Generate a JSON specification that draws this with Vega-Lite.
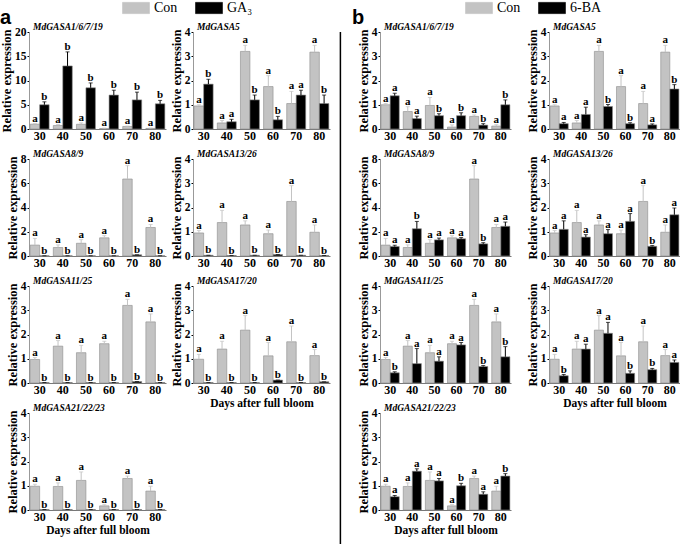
{
"$schema":"https://vega.github.io/schema/vega-lite/v6.json",
"padding":{"left":0,"top":1,"right":0,"bottom":0},
"background":"white",
"datasets":{"d":[
{"p":"a1","d":30,"t":"Con","v":1.0,"hi":1.1,"s":"a"},{"p":"a1","d":40,"t":"Con","v":0.72,"hi":0.92,"s":"a"},{"p":"a1","d":50,"t":"Con","v":0.97,"hi":1.27,"s":"a"},{"p":"a1","d":60,"t":"Con","v":0.08,"hi":0.18,"s":"a"},{"p":"a1","d":70,"t":"Con","v":0.52,"hi":0.6,"s":"a"},{"p":"a1","d":80,"t":"Con","v":0.12,"hi":0.2,"s":"a"},
{"p":"a1","d":30,"t":"GA₃","v":5.0,"hi":5.6,"s":"b"},{"p":"a1","d":40,"t":"GA₃","v":13.0,"hi":15.9,"s":"b"},{"p":"a1","d":50,"t":"GA₃","v":8.5,"hi":9.5,"s":"b"},{"p":"a1","d":60,"t":"GA₃","v":7.0,"hi":8.0,"s":"b"},{"p":"a1","d":70,"t":"GA₃","v":6.0,"hi":7.6,"s":"b"},{"p":"a1","d":80,"t":"GA₃","v":5.2,"hi":5.9,"s":"b"},
{"p":"a2","d":30,"t":"Con","v":0.95,"hi":1.0,"s":"a"},{"p":"a2","d":40,"t":"Con","v":0.25,"hi":0.35,"s":"a"},{"p":"a2","d":50,"t":"Con","v":3.2,"hi":3.45,"s":"a"},{"p":"a2","d":60,"t":"Con","v":1.75,"hi":2.2,"s":"a"},{"p":"a2","d":70,"t":"Con","v":1.05,"hi":1.55,"s":"a"},{"p":"a2","d":80,"t":"Con","v":3.17,"hi":3.45,"s":"a"},
{"p":"a2","d":30,"t":"GA₃","v":1.85,"hi":2.05,"s":"b"},{"p":"a2","d":40,"t":"GA₃","v":0.3,"hi":0.4,"s":"a"},{"p":"a2","d":50,"t":"GA₃","v":1.2,"hi":1.4,"s":"b"},{"p":"a2","d":60,"t":"GA₃","v":0.38,"hi":0.52,"s":"b"},{"p":"a2","d":70,"t":"GA₃","v":1.4,"hi":1.6,"s":"a"},{"p":"a2","d":80,"t":"GA₃","v":1.05,"hi":1.4,"s":"b"},
{"p":"a3","d":30,"t":"Con","v":0.9,"hi":1.45,"s":"a"},{"p":"a3","d":40,"t":"Con","v":0.7,"hi":0.92,"s":"a"},{"p":"a3","d":50,"t":"Con","v":1.05,"hi":1.35,"s":"a"},{"p":"a3","d":60,"t":"Con","v":1.5,"hi":1.68,"s":"a"},{"p":"a3","d":70,"t":"Con","v":6.35,"hi":7.45,"s":"a"},{"p":"a3","d":80,"t":"Con","v":2.35,"hi":2.6,"s":"a"},
{"p":"a3","d":30,"t":"GA₃","v":0.02,"hi":0.02,"s":"b"},{"p":"a3","d":40,"t":"GA₃","v":0.02,"hi":0.02,"s":"b"},{"p":"a3","d":50,"t":"GA₃","v":0.02,"hi":0.02,"s":"b"},{"p":"a3","d":60,"t":"GA₃","v":0.02,"hi":0.02,"s":"b"},{"p":"a3","d":70,"t":"GA₃","v":0.1,"hi":0.1,"s":"b"},{"p":"a3","d":80,"t":"GA₃","v":0.02,"hi":0.02,"s":"b"},
{"p":"a4","d":30,"t":"Con","v":0.95,"hi":1.05,"s":"a"},{"p":"a4","d":40,"t":"Con","v":1.38,"hi":1.88,"s":"a"},{"p":"a4","d":50,"t":"Con","v":1.28,"hi":1.45,"s":"a"},{"p":"a4","d":60,"t":"Con","v":0.92,"hi":1.07,"s":"a"},{"p":"a4","d":70,"t":"Con","v":2.25,"hi":2.9,"s":"a"},{"p":"a4","d":80,"t":"Con","v":0.98,"hi":1.28,"s":"a"},
{"p":"a4","d":30,"t":"GA₃","v":0.03,"hi":0.03,"s":"b"},{"p":"a4","d":40,"t":"GA₃","v":0.02,"hi":0.02,"s":"b"},{"p":"a4","d":50,"t":"GA₃","v":0.03,"hi":0.03,"s":"b"},{"p":"a4","d":60,"t":"GA₃","v":0.06,"hi":0.06,"s":"b"},{"p":"a4","d":70,"t":"GA₃","v":0.03,"hi":0.03,"s":"b"},{"p":"a4","d":80,"t":"GA₃","v":0.02,"hi":0.02,"s":"b"},
{"p":"a5","d":30,"t":"Con","v":0.97,"hi":1.05,"s":"a"},{"p":"a5","d":40,"t":"Con","v":1.52,"hi":1.75,"s":"a"},{"p":"a5","d":50,"t":"Con","v":1.25,"hi":1.55,"s":"a"},{"p":"a5","d":60,"t":"Con","v":1.62,"hi":1.72,"s":"a"},{"p":"a5","d":70,"t":"Con","v":3.2,"hi":3.45,"s":"a"},{"p":"a5","d":80,"t":"Con","v":2.52,"hi":2.85,"s":"a"},
{"p":"a5","d":30,"t":"GA₃","v":0.02,"hi":0.02,"s":"b"},{"p":"a5","d":40,"t":"GA₃","v":0.02,"hi":0.02,"s":"b"},{"p":"a5","d":50,"t":"GA₃","v":0.02,"hi":0.02,"s":"b"},{"p":"a5","d":60,"t":"GA₃","v":0.02,"hi":0.02,"s":"b"},{"p":"a5","d":70,"t":"GA₃","v":0.06,"hi":0.06,"s":"b"},{"p":"a5","d":80,"t":"GA₃","v":0.02,"hi":0.02,"s":"b"},
{"p":"a6","d":30,"t":"Con","v":0.98,"hi":1.18,"s":"a"},{"p":"a6","d":40,"t":"Con","v":1.4,"hi":1.72,"s":"a"},{"p":"a6","d":50,"t":"Con","v":2.18,"hi":2.78,"s":"a"},{"p":"a6","d":60,"t":"Con","v":1.12,"hi":1.67,"s":"a"},{"p":"a6","d":70,"t":"Con","v":1.7,"hi":2.35,"s":"a"},{"p":"a6","d":80,"t":"Con","v":1.13,"hi":1.38,"s":"a"},
{"p":"a6","d":30,"t":"GA₃","v":0.02,"hi":0.02,"s":"b"},{"p":"a6","d":40,"t":"GA₃","v":0.02,"hi":0.02,"s":"b"},{"p":"a6","d":50,"t":"GA₃","v":0.02,"hi":0.02,"s":"b"},{"p":"a6","d":60,"t":"GA₃","v":0.12,"hi":0.12,"s":"b"},{"p":"a6","d":70,"t":"GA₃","v":0.02,"hi":0.02,"s":"b"},{"p":"a6","d":80,"t":"GA₃","v":0.05,"hi":0.05,"s":"b"},
{"p":"a7","d":30,"t":"Con","v":0.98,"hi":1.06,"s":"a"},{"p":"a7","d":40,"t":"Con","v":0.97,"hi":1.12,"s":"a"},{"p":"a7","d":50,"t":"Con","v":1.22,"hi":1.57,"s":"a"},{"p":"a7","d":60,"t":"Con","v":0.17,"hi":0.22,"s":"a"},{"p":"a7","d":70,"t":"Con","v":1.3,"hi":1.4,"s":"a"},{"p":"a7","d":80,"t":"Con","v":0.78,"hi":0.98,"s":"a"},
{"p":"a7","d":30,"t":"GA₃","v":0.02,"hi":0.02,"s":"b"},{"p":"a7","d":40,"t":"GA₃","v":0.02,"hi":0.02,"s":"b"},{"p":"a7","d":50,"t":"GA₃","v":0.02,"hi":0.02,"s":"b"},{"p":"a7","d":60,"t":"GA₃","v":0.02,"hi":0.02,"s":"b"},{"p":"a7","d":70,"t":"GA₃","v":0.02,"hi":0.02,"s":"b"},{"p":"a7","d":80,"t":"GA₃","v":0.02,"hi":0.02,"s":"b"},
{"p":"b1","d":30,"t":"Con","v":1.0,"hi":1.05,"s":"a"},{"p":"b1","d":40,"t":"Con","v":0.72,"hi":0.92,"s":"a"},{"p":"b1","d":50,"t":"Con","v":0.97,"hi":1.3,"s":"a"},{"p":"b1","d":60,"t":"Con","v":0.08,"hi":0.17,"s":"a"},{"p":"b1","d":70,"t":"Con","v":0.52,"hi":0.58,"s":"a"},{"p":"b1","d":80,"t":"Con","v":0.12,"hi":0.18,"s":"a"},
{"p":"b1","d":30,"t":"6-BA","v":1.37,"hi":1.47,"s":"a"},{"p":"b1","d":40,"t":"6-BA","v":0.43,"hi":0.53,"s":"a"},{"p":"b1","d":50,"t":"6-BA","v":0.55,"hi":0.63,"s":"b"},{"p":"b1","d":60,"t":"6-BA","v":0.55,"hi":0.67,"s":"b"},{"p":"b1","d":70,"t":"6-BA","v":0.16,"hi":0.22,"s":"b"},{"p":"b1","d":80,"t":"6-BA","v":1.0,"hi":1.2,"s":"b"},
{"p":"b2","d":30,"t":"Con","v":0.95,"hi":1.0,"s":"a"},{"p":"b2","d":40,"t":"Con","v":0.25,"hi":0.35,"s":"a"},{"p":"b2","d":50,"t":"Con","v":3.2,"hi":3.45,"s":"a"},{"p":"b2","d":60,"t":"Con","v":1.75,"hi":2.2,"s":"a"},{"p":"b2","d":70,"t":"Con","v":1.05,"hi":1.55,"s":"a"},{"p":"b2","d":80,"t":"Con","v":3.17,"hi":3.45,"s":"a"},
{"p":"b2","d":30,"t":"6-BA","v":0.22,"hi":0.27,"s":"a"},{"p":"b2","d":40,"t":"6-BA","v":0.6,"hi":0.9,"s":"a"},{"p":"b2","d":50,"t":"6-BA","v":0.93,"hi":1.01,"s":"b"},{"p":"b2","d":60,"t":"6-BA","v":0.22,"hi":0.26,"s":"b"},{"p":"b2","d":70,"t":"6-BA","v":0.17,"hi":0.21,"s":"a"},{"p":"b2","d":80,"t":"6-BA","v":1.65,"hi":1.83,"s":"b"},
{"p":"b3","d":30,"t":"Con","v":0.9,"hi":1.45,"s":"a"},{"p":"b3","d":40,"t":"Con","v":0.7,"hi":0.92,"s":"a"},{"p":"b3","d":50,"t":"Con","v":1.05,"hi":1.35,"s":"a"},{"p":"b3","d":60,"t":"Con","v":1.5,"hi":1.68,"s":"a"},{"p":"b3","d":70,"t":"Con","v":6.35,"hi":7.45,"s":"a"},{"p":"b3","d":80,"t":"Con","v":2.35,"hi":2.6,"s":"a"},
{"p":"b3","d":30,"t":"6-BA","v":0.78,"hi":0.88,"s":"a"},{"p":"b3","d":40,"t":"6-BA","v":2.25,"hi":2.85,"s":"b"},{"p":"b3","d":50,"t":"6-BA","v":1.33,"hi":1.48,"s":"a"},{"p":"b3","d":60,"t":"6-BA","v":1.42,"hi":1.52,"s":"a"},{"p":"b3","d":70,"t":"6-BA","v":1.0,"hi":1.1,"s":"b"},{"p":"b3","d":80,"t":"6-BA","v":2.45,"hi":2.8,"s":"a"},
{"p":"b4","d":30,"t":"Con","v":0.95,"hi":1.05,"s":"a"},{"p":"b4","d":40,"t":"Con","v":1.38,"hi":1.88,"s":"a"},{"p":"b4","d":50,"t":"Con","v":1.28,"hi":1.45,"s":"a"},{"p":"b4","d":60,"t":"Con","v":0.92,"hi":1.07,"s":"a"},{"p":"b4","d":70,"t":"Con","v":2.25,"hi":2.9,"s":"a"},{"p":"b4","d":80,"t":"Con","v":0.98,"hi":1.28,"s":"a"},
{"p":"b4","d":30,"t":"6-BA","v":1.1,"hi":1.45,"s":"a"},{"p":"b4","d":40,"t":"6-BA","v":0.78,"hi":0.88,"s":"a"},{"p":"b4","d":50,"t":"6-BA","v":0.92,"hi":1.09,"s":"a"},{"p":"b4","d":60,"t":"6-BA","v":1.43,"hi":1.75,"s":"a"},{"p":"b4","d":70,"t":"6-BA","v":0.4,"hi":0.43,"s":"b"},{"p":"b4","d":80,"t":"6-BA","v":1.7,"hi":1.98,"s":"a"},
{"p":"b5","d":30,"t":"Con","v":0.97,"hi":1.05,"s":"a"},{"p":"b5","d":40,"t":"Con","v":1.52,"hi":1.75,"s":"a"},{"p":"b5","d":50,"t":"Con","v":1.25,"hi":1.55,"s":"a"},{"p":"b5","d":60,"t":"Con","v":1.62,"hi":1.72,"s":"a"},{"p":"b5","d":70,"t":"Con","v":3.2,"hi":3.45,"s":"a"},{"p":"b5","d":80,"t":"Con","v":2.52,"hi":2.85,"s":"a"},
{"p":"b5","d":30,"t":"6-BA","v":0.42,"hi":0.46,"s":"b"},{"p":"b5","d":40,"t":"6-BA","v":0.8,"hi":1.42,"s":"a"},{"p":"b5","d":50,"t":"6-BA","v":0.9,"hi":1.08,"s":"a"},{"p":"b5","d":60,"t":"6-BA","v":1.57,"hi":1.67,"s":"a"},{"p":"b5","d":70,"t":"6-BA","v":0.68,"hi":0.72,"s":"b"},{"p":"b5","d":80,"t":"6-BA","v":1.08,"hi":1.5,"s":"b"},
{"p":"b6","d":30,"t":"Con","v":0.98,"hi":1.18,"s":"a"},{"p":"b6","d":40,"t":"Con","v":1.4,"hi":1.72,"s":"a"},{"p":"b6","d":50,"t":"Con","v":2.18,"hi":2.78,"s":"a"},{"p":"b6","d":60,"t":"Con","v":1.12,"hi":1.67,"s":"a"},{"p":"b6","d":70,"t":"Con","v":1.7,"hi":2.35,"s":"a"},{"p":"b6","d":80,"t":"Con","v":1.13,"hi":1.38,"s":"a"},
{"p":"b6","d":30,"t":"6-BA","v":0.3,"hi":0.35,"s":"b"},{"p":"b6","d":40,"t":"6-BA","v":1.4,"hi":1.6,"s":"a"},{"p":"b6","d":50,"t":"6-BA","v":2.05,"hi":2.5,"s":"a"},{"p":"b6","d":60,"t":"6-BA","v":0.4,"hi":0.5,"s":"b"},{"p":"b6","d":70,"t":"6-BA","v":0.55,"hi":0.6,"s":"b"},{"p":"b6","d":80,"t":"6-BA","v":0.85,"hi":0.95,"s":"a"},
{"p":"b7","d":30,"t":"Con","v":0.98,"hi":1.06,"s":"a"},{"p":"b7","d":40,"t":"Con","v":0.97,"hi":1.12,"s":"a"},{"p":"b7","d":50,"t":"Con","v":1.22,"hi":1.57,"s":"a"},{"p":"b7","d":60,"t":"Con","v":0.17,"hi":0.22,"s":"a"},{"p":"b7","d":70,"t":"Con","v":1.3,"hi":1.4,"s":"a"},{"p":"b7","d":80,"t":"Con","v":0.78,"hi":0.98,"s":"a"},
{"p":"b7","d":30,"t":"6-BA","v":0.55,"hi":0.6,"s":"a"},{"p":"b7","d":40,"t":"6-BA","v":1.6,"hi":1.7,"s":"a"},{"p":"b7","d":50,"t":"6-BA","v":1.2,"hi":1.3,"s":"a"},{"p":"b7","d":60,"t":"6-BA","v":1.0,"hi":1.1,"s":"b"},{"p":"b7","d":70,"t":"6-BA","v":0.65,"hi":0.75,"s":"a"},{"p":"b7","d":80,"t":"6-BA","v":1.4,"hi":1.5,"s":"b"}
]},
"data":{"name":"d"},
"spacing":8,
"resolve":{"scale":{"color":"independent","xOffset":"independent"},"legend":{"color":"independent"}},
"hconcat":[
{"columns":2,"bounds":"flush","spacing":{"row":30,"column":27},
 "concat":[
 {"transform":[{"filter":"datum.p=='a1'"}],"title":"MdGASA1/6/7/19","width":137,"height":97,
  "encoding":{"x":{"field":"d","type":"ordinal","title":null,"scale":{"paddingInner":0.18,"paddingOuter":0.05}},"xOffset":{"field":"t","type":"nominal","scale":{"domain":["Con","GA₃"]}},"y":{"field":"v","type":"quantitative","title":"Relative expression","scale":{"domain":[0,20]},"axis":{"values":[0,5,10,15,20]}},"color":{"field":"t","type":"nominal","scale":{"domain":["Con","GA₃"],"range":["#c3c3c3","#000000"]},"legend":{"title":"a","titlePadding":117,"legendX":-29,"legendY":-31}}},
  "layer":[{"mark":{"type":"bar","stroke":"#8c8c8c","strokeWidth":0.6}},{"mark":{"type":"rule","strokeWidth":1},"encoding":{"y2":{"field":"hi"}}},{"mark":{"type":"tick","thickness":1,"size":4},"encoding":{"y":{"field":"hi","type":"quantitative","title":"Relative expression"}}},{"mark":{"type":"text","baseline":"alphabetic","dy":-2,"fontWeight":"bold","fontSize":11,"font":"Liberation Serif"},"encoding":{"y":{"field":"hi","type":"quantitative","title":"Relative expression"},"text":{"field":"s"},"color":{"value":"#000"}}}]},
 {"transform":[{"filter":"datum.p=='a2'"}],"title":"MdGASA5","width":137,"height":97,
  "encoding":{"x":{"field":"d","type":"ordinal","title":null,"scale":{"paddingInner":0.18,"paddingOuter":0.05}},"xOffset":{"field":"t","type":"nominal","scale":{"domain":["Con","GA₃"]}},"y":{"field":"v","type":"quantitative","title":"Relative expression","scale":{"domain":[0,4]},"axis":{"values":[0,1,2,3,4]}},"color":{"field":"t","type":"nominal","scale":{"domain":["Con","GA₃"],"range":["#c3c3c3","#000000"]}}},
  "layer":[{"mark":{"type":"bar","stroke":"#8c8c8c","strokeWidth":0.6}},{"mark":{"type":"rule","strokeWidth":1},"encoding":{"y2":{"field":"hi"}}},{"mark":{"type":"tick","thickness":1,"size":4},"encoding":{"y":{"field":"hi","type":"quantitative","title":"Relative expression"}}},{"mark":{"type":"text","baseline":"alphabetic","dy":-2,"fontWeight":"bold","fontSize":11,"font":"Liberation Serif"},"encoding":{"y":{"field":"hi","type":"quantitative","title":"Relative expression"},"text":{"field":"s"},"color":{"value":"#000"}}}]},
 {"transform":[{"filter":"datum.p=='a3'"}],"title":"MdGASA8/9","width":137,"height":97,
  "encoding":{"x":{"field":"d","type":"ordinal","title":null,"scale":{"paddingInner":0.18,"paddingOuter":0.05}},"xOffset":{"field":"t","type":"nominal","scale":{"domain":["Con","GA₃"]}},"y":{"field":"v","type":"quantitative","title":"Relative expression","scale":{"domain":[0,8]},"axis":{"values":[0,2,4,6,8]}},"color":{"field":"t","type":"nominal","scale":{"domain":["Con","GA₃"],"range":["#c3c3c3","#000000"]}}},
  "layer":[{"mark":{"type":"bar","stroke":"#8c8c8c","strokeWidth":0.6}},{"mark":{"type":"rule","strokeWidth":1},"encoding":{"y2":{"field":"hi"}}},{"mark":{"type":"tick","thickness":1,"size":4},"encoding":{"y":{"field":"hi","type":"quantitative","title":"Relative expression"}}},{"mark":{"type":"text","baseline":"alphabetic","dy":-2,"fontWeight":"bold","fontSize":11,"font":"Liberation Serif"},"encoding":{"y":{"field":"hi","type":"quantitative","title":"Relative expression"},"text":{"field":"s"},"color":{"value":"#000"}}}]},
 {"transform":[{"filter":"datum.p=='a4'"}],"title":"MdGASA13/26","width":137,"height":97,
  "encoding":{"x":{"field":"d","type":"ordinal","title":null,"scale":{"paddingInner":0.18,"paddingOuter":0.05}},"xOffset":{"field":"t","type":"nominal","scale":{"domain":["Con","GA₃"]}},"y":{"field":"v","type":"quantitative","title":"Relative expression","scale":{"domain":[0,4]},"axis":{"values":[0,1,2,3,4]}},"color":{"field":"t","type":"nominal","scale":{"domain":["Con","GA₃"],"range":["#c3c3c3","#000000"]}}},
  "layer":[{"mark":{"type":"bar","stroke":"#8c8c8c","strokeWidth":0.6}},{"mark":{"type":"rule","strokeWidth":1},"encoding":{"y2":{"field":"hi"}}},{"mark":{"type":"tick","thickness":1,"size":4},"encoding":{"y":{"field":"hi","type":"quantitative","title":"Relative expression"}}},{"mark":{"type":"text","baseline":"alphabetic","dy":-2,"fontWeight":"bold","fontSize":11,"font":"Liberation Serif"},"encoding":{"y":{"field":"hi","type":"quantitative","title":"Relative expression"},"text":{"field":"s"},"color":{"value":"#000"}}}]},
 {"transform":[{"filter":"datum.p=='a5'"}],"title":"MdGASA11/25","width":137,"height":97,
  "encoding":{"x":{"field":"d","type":"ordinal","title":null,"scale":{"paddingInner":0.18,"paddingOuter":0.05}},"xOffset":{"field":"t","type":"nominal","scale":{"domain":["Con","GA₃"]}},"y":{"field":"v","type":"quantitative","title":"Relative expression","scale":{"domain":[0,4]},"axis":{"values":[0,1,2,3,4]}},"color":{"field":"t","type":"nominal","scale":{"domain":["Con","GA₃"],"range":["#c3c3c3","#000000"]}}},
  "layer":[{"mark":{"type":"bar","stroke":"#8c8c8c","strokeWidth":0.6}},{"mark":{"type":"rule","strokeWidth":1},"encoding":{"y2":{"field":"hi"}}},{"mark":{"type":"tick","thickness":1,"size":4},"encoding":{"y":{"field":"hi","type":"quantitative","title":"Relative expression"}}},{"mark":{"type":"text","baseline":"alphabetic","dy":-2,"fontWeight":"bold","fontSize":11,"font":"Liberation Serif"},"encoding":{"y":{"field":"hi","type":"quantitative","title":"Relative expression"},"text":{"field":"s"},"color":{"value":"#000"}}}]},
 {"transform":[{"filter":"datum.p=='a6'"}],"title":"MdGASA17/20","width":137,"height":97,
  "encoding":{"x":{"field":"d","type":"ordinal","title":"Days after full bloom","scale":{"paddingInner":0.18,"paddingOuter":0.05}},"xOffset":{"field":"t","type":"nominal","scale":{"domain":["Con","GA₃"]}},"y":{"field":"v","type":"quantitative","title":"Relative expression","scale":{"domain":[0,4]},"axis":{"values":[0,1,2,3,4]}},"color":{"field":"t","type":"nominal","scale":{"domain":["Con","GA₃"],"range":["#c3c3c3","#000000"]}}},
  "layer":[{"mark":{"type":"bar","stroke":"#8c8c8c","strokeWidth":0.6}},{"mark":{"type":"rule","strokeWidth":1},"encoding":{"y2":{"field":"hi"}}},{"mark":{"type":"tick","thickness":1,"size":4},"encoding":{"y":{"field":"hi","type":"quantitative","title":"Relative expression"}}},{"mark":{"type":"text","baseline":"alphabetic","dy":-2,"fontWeight":"bold","fontSize":11,"font":"Liberation Serif"},"encoding":{"y":{"field":"hi","type":"quantitative","title":"Relative expression"},"text":{"field":"s"},"color":{"value":"#000"}}}]},
 {"transform":[{"filter":"datum.p=='a7'"}],"title":"MdGASA21/22/23","width":137,"height":97,
  "encoding":{"x":{"field":"d","type":"ordinal","title":"Days after full bloom","scale":{"paddingInner":0.18,"paddingOuter":0.05}},"xOffset":{"field":"t","type":"nominal","scale":{"domain":["Con","GA₃"]}},"y":{"field":"v","type":"quantitative","title":"Relative expression","scale":{"domain":[0,4]},"axis":{"values":[0,1,2,3,4]}},"color":{"field":"t","type":"nominal","scale":{"domain":["Con","GA₃"],"range":["#c3c3c3","#000000"]}}},
  "layer":[{"mark":{"type":"bar","stroke":"#8c8c8c","strokeWidth":0.6}},{"mark":{"type":"rule","strokeWidth":1},"encoding":{"y2":{"field":"hi"}}},{"mark":{"type":"tick","thickness":1,"size":4},"encoding":{"y":{"field":"hi","type":"quantitative","title":"Relative expression"}}},{"mark":{"type":"text","baseline":"alphabetic","dy":-2,"fontWeight":"bold","fontSize":11,"font":"Liberation Serif"},"encoding":{"y":{"field":"hi","type":"quantitative","title":"Relative expression"},"text":{"field":"s"},"color":{"value":"#000"}}}]}
 ]},
{"data":{"values":[{}]},"width":6,"height":542,"mark":{"type":"rule","color":"#000","strokeWidth":1.5},"encoding":{"x":{"datum":0.4,"type":"quantitative","scale":{"domain":[0,1]},"axis":null}}},
{"columns":2,"bounds":"flush","spacing":{"row":30,"column":38},
 "concat":[
 {"transform":[{"filter":"datum.p=='b1'"}],"title":"MdGASA1/6/7/19","width":131,"height":97,
  "encoding":{"x":{"field":"d","type":"ordinal","title":null,"scale":{"paddingInner":0.18,"paddingOuter":0.05}},"xOffset":{"field":"t","type":"nominal","scale":{"domain":["Con","6-BA"]}},"y":{"field":"v","type":"quantitative","title":"Relative expression","scale":{"domain":[0,4]},"axis":{"values":[0,1,2,3,4]}},"color":{"field":"t","type":"nominal","scale":{"domain":["Con","6-BA"],"range":["#c3c3c3","#000000"]},"legend":{"title":"b","titlePadding":107,"legendX":-28,"legendY":-31}}},
  "layer":[{"mark":{"type":"bar","stroke":"#8c8c8c","strokeWidth":0.6}},{"mark":{"type":"rule","strokeWidth":1},"encoding":{"y2":{"field":"hi"}}},{"mark":{"type":"tick","thickness":1,"size":4},"encoding":{"y":{"field":"hi","type":"quantitative","title":"Relative expression"}}},{"mark":{"type":"text","baseline":"alphabetic","dy":-2,"fontWeight":"bold","fontSize":11,"font":"Liberation Serif"},"encoding":{"y":{"field":"hi","type":"quantitative","title":"Relative expression"},"text":{"field":"s"},"color":{"value":"#000"}}}]},
 {"transform":[{"filter":"datum.p=='b2'"}],"title":"MdGASA5","width":131,"height":97,
  "encoding":{"x":{"field":"d","type":"ordinal","title":null,"scale":{"paddingInner":0.18,"paddingOuter":0.05}},"xOffset":{"field":"t","type":"nominal","scale":{"domain":["Con","6-BA"]}},"y":{"field":"v","type":"quantitative","title":"Relative expression","scale":{"domain":[0,4]},"axis":{"values":[0,1,2,3,4]}},"color":{"field":"t","type":"nominal","scale":{"domain":["Con","6-BA"],"range":["#c3c3c3","#000000"]}}},
  "layer":[{"mark":{"type":"bar","stroke":"#8c8c8c","strokeWidth":0.6}},{"mark":{"type":"rule","strokeWidth":1},"encoding":{"y2":{"field":"hi"}}},{"mark":{"type":"tick","thickness":1,"size":4},"encoding":{"y":{"field":"hi","type":"quantitative","title":"Relative expression"}}},{"mark":{"type":"text","baseline":"alphabetic","dy":-2,"fontWeight":"bold","fontSize":11,"font":"Liberation Serif"},"encoding":{"y":{"field":"hi","type":"quantitative","title":"Relative expression"},"text":{"field":"s"},"color":{"value":"#000"}}}]},
 {"transform":[{"filter":"datum.p=='b3'"}],"title":"MdGASA8/9","width":131,"height":97,
  "encoding":{"x":{"field":"d","type":"ordinal","title":null,"scale":{"paddingInner":0.18,"paddingOuter":0.05}},"xOffset":{"field":"t","type":"nominal","scale":{"domain":["Con","6-BA"]}},"y":{"field":"v","type":"quantitative","title":"Relative expression","scale":{"domain":[0,8]},"axis":{"values":[0,2,4,6,8]}},"color":{"field":"t","type":"nominal","scale":{"domain":["Con","6-BA"],"range":["#c3c3c3","#000000"]}}},
  "layer":[{"mark":{"type":"bar","stroke":"#8c8c8c","strokeWidth":0.6}},{"mark":{"type":"rule","strokeWidth":1},"encoding":{"y2":{"field":"hi"}}},{"mark":{"type":"tick","thickness":1,"size":4},"encoding":{"y":{"field":"hi","type":"quantitative","title":"Relative expression"}}},{"mark":{"type":"text","baseline":"alphabetic","dy":-2,"fontWeight":"bold","fontSize":11,"font":"Liberation Serif"},"encoding":{"y":{"field":"hi","type":"quantitative","title":"Relative expression"},"text":{"field":"s"},"color":{"value":"#000"}}}]},
 {"transform":[{"filter":"datum.p=='b4'"}],"title":"MdGASA13/26","width":131,"height":97,
  "encoding":{"x":{"field":"d","type":"ordinal","title":null,"scale":{"paddingInner":0.18,"paddingOuter":0.05}},"xOffset":{"field":"t","type":"nominal","scale":{"domain":["Con","6-BA"]}},"y":{"field":"v","type":"quantitative","title":"Relative expression","scale":{"domain":[0,4]},"axis":{"values":[0,1,2,3,4]}},"color":{"field":"t","type":"nominal","scale":{"domain":["Con","6-BA"],"range":["#c3c3c3","#000000"]}}},
  "layer":[{"mark":{"type":"bar","stroke":"#8c8c8c","strokeWidth":0.6}},{"mark":{"type":"rule","strokeWidth":1},"encoding":{"y2":{"field":"hi"}}},{"mark":{"type":"tick","thickness":1,"size":4},"encoding":{"y":{"field":"hi","type":"quantitative","title":"Relative expression"}}},{"mark":{"type":"text","baseline":"alphabetic","dy":-2,"fontWeight":"bold","fontSize":11,"font":"Liberation Serif"},"encoding":{"y":{"field":"hi","type":"quantitative","title":"Relative expression"},"text":{"field":"s"},"color":{"value":"#000"}}}]},
 {"transform":[{"filter":"datum.p=='b5'"}],"title":"MdGASA11/25","width":131,"height":97,
  "encoding":{"x":{"field":"d","type":"ordinal","title":null,"scale":{"paddingInner":0.18,"paddingOuter":0.05}},"xOffset":{"field":"t","type":"nominal","scale":{"domain":["Con","6-BA"]}},"y":{"field":"v","type":"quantitative","title":"Relative expression","scale":{"domain":[0,4]},"axis":{"values":[0,1,2,3,4]}},"color":{"field":"t","type":"nominal","scale":{"domain":["Con","6-BA"],"range":["#c3c3c3","#000000"]}}},
  "layer":[{"mark":{"type":"bar","stroke":"#8c8c8c","strokeWidth":0.6}},{"mark":{"type":"rule","strokeWidth":1},"encoding":{"y2":{"field":"hi"}}},{"mark":{"type":"tick","thickness":1,"size":4},"encoding":{"y":{"field":"hi","type":"quantitative","title":"Relative expression"}}},{"mark":{"type":"text","baseline":"alphabetic","dy":-2,"fontWeight":"bold","fontSize":11,"font":"Liberation Serif"},"encoding":{"y":{"field":"hi","type":"quantitative","title":"Relative expression"},"text":{"field":"s"},"color":{"value":"#000"}}}]},
 {"transform":[{"filter":"datum.p=='b6'"}],"title":"MdGASA17/20","width":131,"height":97,
  "encoding":{"x":{"field":"d","type":"ordinal","title":"Days after full bloom","scale":{"paddingInner":0.18,"paddingOuter":0.05}},"xOffset":{"field":"t","type":"nominal","scale":{"domain":["Con","6-BA"]}},"y":{"field":"v","type":"quantitative","title":"Relative expression","scale":{"domain":[0,4]},"axis":{"values":[0,1,2,3,4]}},"color":{"field":"t","type":"nominal","scale":{"domain":["Con","6-BA"],"range":["#c3c3c3","#000000"]}}},
  "layer":[{"mark":{"type":"bar","stroke":"#8c8c8c","strokeWidth":0.6}},{"mark":{"type":"rule","strokeWidth":1},"encoding":{"y2":{"field":"hi"}}},{"mark":{"type":"tick","thickness":1,"size":4},"encoding":{"y":{"field":"hi","type":"quantitative","title":"Relative expression"}}},{"mark":{"type":"text","baseline":"alphabetic","dy":-2,"fontWeight":"bold","fontSize":11,"font":"Liberation Serif"},"encoding":{"y":{"field":"hi","type":"quantitative","title":"Relative expression"},"text":{"field":"s"},"color":{"value":"#000"}}}]},
 {"transform":[{"filter":"datum.p=='b7'"}],"title":"MdGASA21/22/23","width":131,"height":97,
  "encoding":{"x":{"field":"d","type":"ordinal","title":"Days after full bloom","scale":{"paddingInner":0.18,"paddingOuter":0.05}},"xOffset":{"field":"t","type":"nominal","scale":{"domain":["Con","6-BA"]}},"y":{"field":"v","type":"quantitative","title":"Relative expression","scale":{"domain":[0,4]},"axis":{"values":[0,1,2,3,4]}},"color":{"field":"t","type":"nominal","scale":{"domain":["Con","6-BA"],"range":["#c3c3c3","#000000"]}}},
  "layer":[{"mark":{"type":"bar","stroke":"#8c8c8c","strokeWidth":0.6}},{"mark":{"type":"rule","strokeWidth":1},"encoding":{"y2":{"field":"hi"}}},{"mark":{"type":"tick","thickness":1,"size":4},"encoding":{"y":{"field":"hi","type":"quantitative","title":"Relative expression"}}},{"mark":{"type":"text","baseline":"alphabetic","dy":-2,"fontWeight":"bold","fontSize":11,"font":"Liberation Serif"},"encoding":{"y":{"field":"hi","type":"quantitative","title":"Relative expression"},"text":{"field":"s"},"color":{"value":"#000"}}}]}
 ]}
],
"config":{
 "view":{"stroke":null},
 "font":"Liberation Serif",
 "title":{"anchor":"start","frame":"group","offset":-5,"dx":4,"baseline":"alphabetic","font":"Liberation Serif","fontSize":9.5,"fontStyle":"italic","fontWeight":"bold","color":"#000"},
 "axis":{"grid":false,"labelFont":"Liberation Serif","labelFontWeight":"bold","labelColor":"#000","titleFont":"Liberation Serif","titleFontWeight":"bold","titleColor":"#000","tickColor":"#000"},
 "axisY":{"labelFontSize":11.5,"titleFontSize":12.5,"tickSize":2,"labelPadding":1,"titlePadding":1,"domainColor":"#999"},
 "axisX":{"labelFontSize":12,"titleFontSize":11.5,"ticks":false,"labelAngle":0,"labelPadding":1,"titlePadding":2,"domainColor":"#777"},
 "legend":{"orient":"none","direction":"horizontal","titleOrient":"left","titleBaseline":"top","titleFont":"Liberation Sans","titleFontSize":20,"titleFontWeight":"bold","titleColor":"#000","symbolType":"M-2.4,-1H2.4V1H-2.4Z","symbolSize":126,"symbolStrokeColor":"#8c8c8c","symbolStrokeWidth":0.6,"labelFont":"Liberation Serif","labelFontSize":14,"labelColor":"#000","labelOffset":11,"columnPadding":16,"symbolOpacity":1}
}
}
